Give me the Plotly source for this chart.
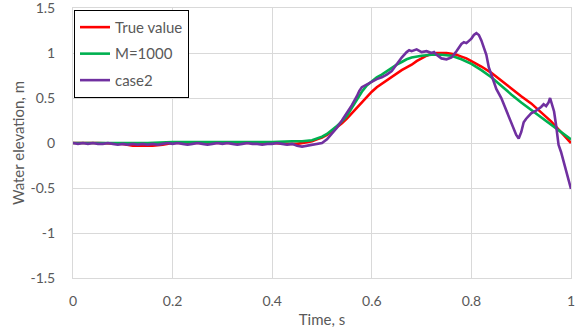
import plotly.graph_objects as go

# True value
t_true = [0.00, 0.05, 0.10, 0.12, 0.14, 0.16, 0.18, 0.20, 0.25, 0.30, 0.35, 0.40, 0.43, 0.45,
          0.47, 0.48, 0.49, 0.50, 0.51, 0.52, 0.53, 0.54, 0.55, 0.56, 0.57, 0.58, 0.59, 0.60,
          0.61, 0.62, 0.63, 0.64, 0.65, 0.66, 0.67, 0.68, 0.69, 0.70, 0.71, 0.72, 0.73, 0.74,
          0.75, 0.76, 0.77, 0.78, 0.79, 0.80, 0.82, 0.84, 0.86, 0.88, 0.90, 0.92, 0.94, 0.96,
          0.98, 1.00]
v_true = [0.00, 0.00, -0.01, -0.03, -0.03, -0.03, -0.02, 0.00, 0.00, 0.00, 0.00, 0.00, -0.01, -0.01,
          0.01, 0.02, 0.04, 0.06, 0.09, 0.13, 0.17, 0.22, 0.27, 0.33, 0.39, 0.46, 0.52, 0.57,
          0.62, 0.66, 0.70, 0.74, 0.78, 0.81, 0.84, 0.87, 0.91, 0.94, 0.97, 0.99, 1.00, 1.00,
          1.00, 0.99, 0.98, 0.96, 0.94, 0.91, 0.85, 0.78, 0.69, 0.60, 0.52, 0.44, 0.34, 0.24,
          0.12, 0.00]

# M=1000
t_m = [0.00, 0.05, 0.10, 0.15, 0.20, 0.30, 0.40, 0.44, 0.46, 0.48, 0.50, 0.51, 0.52, 0.53,
       0.54, 0.55, 0.56, 0.57, 0.58, 0.59, 0.60, 0.61, 0.62, 0.63, 0.64, 0.65, 0.66, 0.67,
       0.68, 0.69, 0.70, 0.72, 0.74, 0.76, 0.78, 0.80, 0.82, 0.84, 0.86, 0.88, 0.90, 0.92,
       0.94, 0.96, 0.98, 1.00]
v_m = [0.00, 0.00, 0.00, 0.00, 0.01, 0.01, 0.01, 0.02, 0.02, 0.03, 0.07, 0.10, 0.14, 0.19,
       0.24, 0.30, 0.39, 0.48, 0.57, 0.64, 0.69, 0.73, 0.76, 0.80, 0.83, 0.87, 0.90, 0.93,
       0.95, 0.96, 0.97, 0.98, 0.98, 0.97, 0.93, 0.88, 0.81, 0.73, 0.63, 0.54, 0.45, 0.37,
       0.28, 0.20, 0.12, 0.04]

# case2
t_case2 = [0.00, 0.01, 0.02, 0.03, 0.04, 0.05, 0.06, 0.07, 0.08, 0.09, 0.10, 0.11, 0.12, 0.13,
           0.14, 0.15, 0.16, 0.17, 0.18, 0.19, 0.20, 0.21, 0.22, 0.23, 0.24, 0.25, 0.26, 0.27,
           0.28, 0.29, 0.30, 0.31, 0.32, 0.33, 0.34, 0.35, 0.36, 0.37, 0.38, 0.39, 0.40, 0.41,
           0.42, 0.43, 0.44, 0.45, 0.46, 0.47, 0.48, 0.49, 0.50, 0.51, 0.52, 0.53, 0.54, 0.55,
           0.56, 0.57, 0.575, 0.58, 0.59, 0.60, 0.61, 0.62, 0.63, 0.64, 0.65, 0.66, 0.67, 0.675,
           0.68, 0.69, 0.70, 0.71, 0.72, 0.725, 0.73, 0.74, 0.75, 0.76, 0.77, 0.78, 0.785, 0.79,
           0.80, 0.805, 0.81, 0.815, 0.82, 0.825, 0.83, 0.835, 0.84, 0.845, 0.85, 0.86, 0.87,
           0.88, 0.89, 0.895, 0.90, 0.905, 0.91, 0.92, 0.93, 0.94, 0.945, 0.95, 0.955, 0.958,
           0.962, 0.966, 0.97, 0.975, 0.98, 0.985, 0.99, 0.995, 1.00]
v_case2 = [0.00, -0.01, 0.00, -0.01, 0.00, -0.01, -0.01, 0.00, -0.01, -0.02, -0.01, -0.02, -0.01, -0.02,
           -0.01, -0.02, -0.01, -0.02, -0.01, 0.00, -0.01, 0.00, -0.01, -0.02, -0.01, 0.00, -0.01, -0.02,
           -0.01, 0.00, -0.01, 0.00, -0.01, -0.02, -0.01, 0.00, -0.01, -0.01, -0.02, -0.01, -0.01, 0.00,
           -0.01, -0.02, -0.01, -0.03, -0.04, -0.03, -0.02, -0.01, 0.00, 0.04, 0.10, 0.17, 0.25, 0.33,
           0.42, 0.52, 0.58, 0.62, 0.65, 0.68, 0.71, 0.73, 0.76, 0.80, 0.88, 0.95, 1.01, 1.03,
           1.02, 1.04, 1.01, 1.02, 1.00, 1.01, 0.98, 0.94, 0.93, 0.95, 1.02, 1.10, 1.12, 1.11,
           1.16, 1.20, 1.22, 1.20, 1.14, 1.06, 0.98, 0.84, 0.76, 0.68, 0.60, 0.50, 0.36,
           0.22, 0.09, 0.05, 0.12, 0.23, 0.27, 0.33, 0.36, 0.40, 0.43, 0.41, 0.45, 0.50,
           0.43, 0.35, 0.20, -0.02, -0.10, -0.20, -0.30, -0.40, -0.51]

x_ticks = [0, 0.2, 0.4, 0.6, 0.8, 1]
y_ticks = [-1.5, -1, -0.5, 0, 0.5, 1, 1.5]

FONT = "Lato"
TEXT = "#595959"
GRID = "#D9D9D9"

fig = go.Figure()
fig.add_trace(go.Scatter(x=t_true, y=v_true, mode="lines", name="True value",
                         line=dict(color="#FF0000", width=2.6), legendgroup="a"))
fig.add_trace(go.Scatter(x=t_m, y=v_m, mode="lines", name="M=1000",
                         line=dict(color="#00B050", width=2.6), legendgroup="b"))
fig.add_trace(go.Scatter(x=t_case2, y=v_case2, mode="lines", name="case2",
                         line=dict(color="#7030A0", width=2.6), legendgroup="c"))

fig.update_layout(
    width=582, height=336,
    margin=dict(l=73, r=11, t=8, b=58, autoexpand=False),
    paper_bgcolor="white", plot_bgcolor="white",
    font=dict(family=FONT, size=14, color=TEXT),
    showlegend=True,
    legend=dict(
        x=0.002, y=0.993, xanchor="left", yanchor="top",
        bgcolor="white", bordercolor="black", borderwidth=1,
        font=dict(family=FONT, size=15, color=TEXT),
        traceorder="grouped", tracegroupgap=4,
    ),
    xaxis=dict(
        range=[0, 1], tickvals=x_ticks, ticktext=[f"{v:g}" for v in x_ticks],
        showgrid=True, gridcolor=GRID, gridwidth=1, zeroline=False,
        showline=True, linecolor=GRID, linewidth=1, mirror=True,
        ticks="", ticklabelstandoff=10, ticklabeloverflow="allow", automargin=False,
        title=dict(text="Time, s", font=dict(family=FONT, size=15, color=TEXT), standoff=6),
        tickfont=dict(family=FONT, size=14, color=TEXT),
    ),
    yaxis=dict(
        range=[-1.5, 1.5], tickvals=y_ticks, ticktext=[f"{v:g}" for v in y_ticks],
        showgrid=True, gridcolor=GRID, gridwidth=1, zeroline=False,
        showline=True, linecolor=GRID, linewidth=1, mirror=True,
        ticks="", ticklabelstandoff=14, ticklabeloverflow="allow", automargin=False,
        title=dict(text="Water elevation, m", font=dict(family=FONT, size=15, color=TEXT), standoff=2),
        tickfont=dict(family=FONT, size=14, color=TEXT),
    ),
)

fig.write_html("out.html")
